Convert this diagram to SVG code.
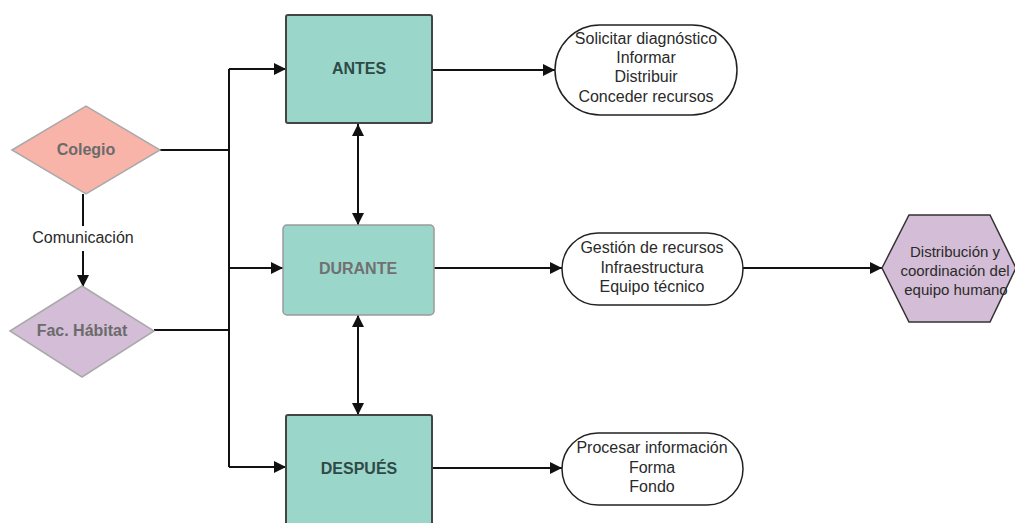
<svg xmlns="http://www.w3.org/2000/svg" width="1015" height="523" viewBox="0 0 1015 523">
  <style>
    .lbl { font-family: "Liberation Sans", Arial, sans-serif; font-size: 16px; fill: #2a2a2a; text-anchor: middle; }
    .small { font-size: 15px; }
    .bold { font-family: "Liberation Sans", Arial, sans-serif; font-size: 16px; font-weight: bold; text-anchor: middle; }
    .box { fill: #9bd6cb; stroke: #444; stroke-width: 2; }
    .oval { fill: #fff; stroke: #222; stroke-width: 1.5; }
    .wire { fill: none; stroke: #111; stroke-width: 2; }
  </style>
  <defs>
    <marker id="arr" viewBox="0 0 10 10" refX="10" refY="5" markerWidth="6" markerHeight="6" orient="auto-start-reverse" markerUnits="strokeWidth">
      <path d="M0,0 L10,5 L0,10 z" fill="#111"/>
    </marker>
  </defs>

  <g id="connectors">
    <!-- Colegio to Fac. Hábitat -->
    <path class="wire" d="M83,194 V226" />
    <path class="wire" d="M83,251 V287" marker-end="url(#arr)"/>
    <text class="lbl" x="83" y="243">Comunicación</text>
    <!-- bus from the two actors -->
    <path class="wire" d="M160,150 H229"/>
    <path class="wire" d="M154,330 H229"/>
    <path class="wire" d="M229,69 V467"/>
    <path class="wire" d="M229,69 H286" marker-end="url(#arr)"/>
    <path class="wire" d="M229,268 H283" marker-end="url(#arr)"/>
    <path class="wire" d="M229,467 H286" marker-end="url(#arr)"/>
    <!-- phase links -->
    <path class="wire" d="M358,124 V225" marker-start="url(#arr)" marker-end="url(#arr)"/>
    <path class="wire" d="M358,315 V415" marker-start="url(#arr)" marker-end="url(#arr)"/>
    <!-- phase outputs -->
    <path class="wire" d="M432,70 H555" marker-end="url(#arr)"/>
    <path class="wire" d="M434,268 H562" marker-end="url(#arr)"/>
    <path class="wire" d="M432,468 H562" marker-end="url(#arr)"/>
    <path class="wire" d="M743,268 H882" marker-end="url(#arr)"/>
  </g>

  <g id="colegio">
    <polygon points="12,150 86,106 160,150 86,194" fill="#f9b4aa" stroke="#aaa" stroke-width="1.5"/>
    <text class="bold" x="86" y="155" fill="#6b6b6b">Colegio</text>
  </g>

  <g id="fac-habitat">
    <polygon points="10,331 82,286 154,331 82,377" fill="#d4bdd6" stroke="#aaa" stroke-width="1.5"/>
    <text class="bold" x="82" y="336" fill="#6b6b6b">Fac. Hábitat</text>
  </g>

  <g id="antes">
    <rect class="box" x="286" y="15" width="146" height="108" rx="2"/>
    <text class="bold" x="359" y="74" fill="#2f4a46">ANTES</text>
  </g>

  <g id="durante">
    <rect x="283" y="225" width="151" height="90" rx="4" fill="#9bd6cb" stroke="#9a9a9a" stroke-width="1.5"/>
    <text class="bold" x="358" y="274" fill="#707070">DURANTE</text>
  </g>

  <g id="despues">
    <rect class="box" x="286" y="415" width="146" height="110" rx="2"/>
    <text class="bold" x="359" y="474" fill="#2f4a46">DESPUÉS</text>
  </g>

  <g id="tareas-antes">
    <rect class="oval" x="555" y="25" width="182" height="90" rx="45"/>
    <text class="lbl" x="646" y="44">Solicitar diagnóstico</text>
    <text class="lbl" x="646" y="63">Informar</text>
    <text class="lbl" x="646" y="82">Distribuir</text>
    <text class="lbl" x="646" y="102">Conceder recursos</text>
  </g>

  <g id="tareas-durante">
    <rect class="oval" x="562" y="233" width="181" height="72" rx="36"/>
    <text class="lbl" x="652" y="253">Gestión de recursos</text>
    <text class="lbl" x="652" y="273">Infraestructura</text>
    <text class="lbl" x="652" y="292">Equipo técnico</text>
  </g>

  <g id="tareas-despues">
    <rect class="oval" x="562" y="433" width="181" height="72" rx="36"/>
    <text class="lbl" x="652" y="453">Procesar información</text>
    <text class="lbl" x="652" y="473">Forma</text>
    <text class="lbl" x="652" y="492">Fondo</text>
  </g>

  <g id="equipo-humano">
    <polygon points="882,268 909,215 990,215 1016,268 990,322 909,322" fill="#d4bdd6" stroke="#333" stroke-width="1.5"/>
    <text class="lbl small" x="955" y="257">Distribución y</text>
    <text class="lbl small" x="955" y="276">coordinación del</text>
    <text class="lbl small" x="956" y="295">equipo humano</text>
  </g>
</svg>
